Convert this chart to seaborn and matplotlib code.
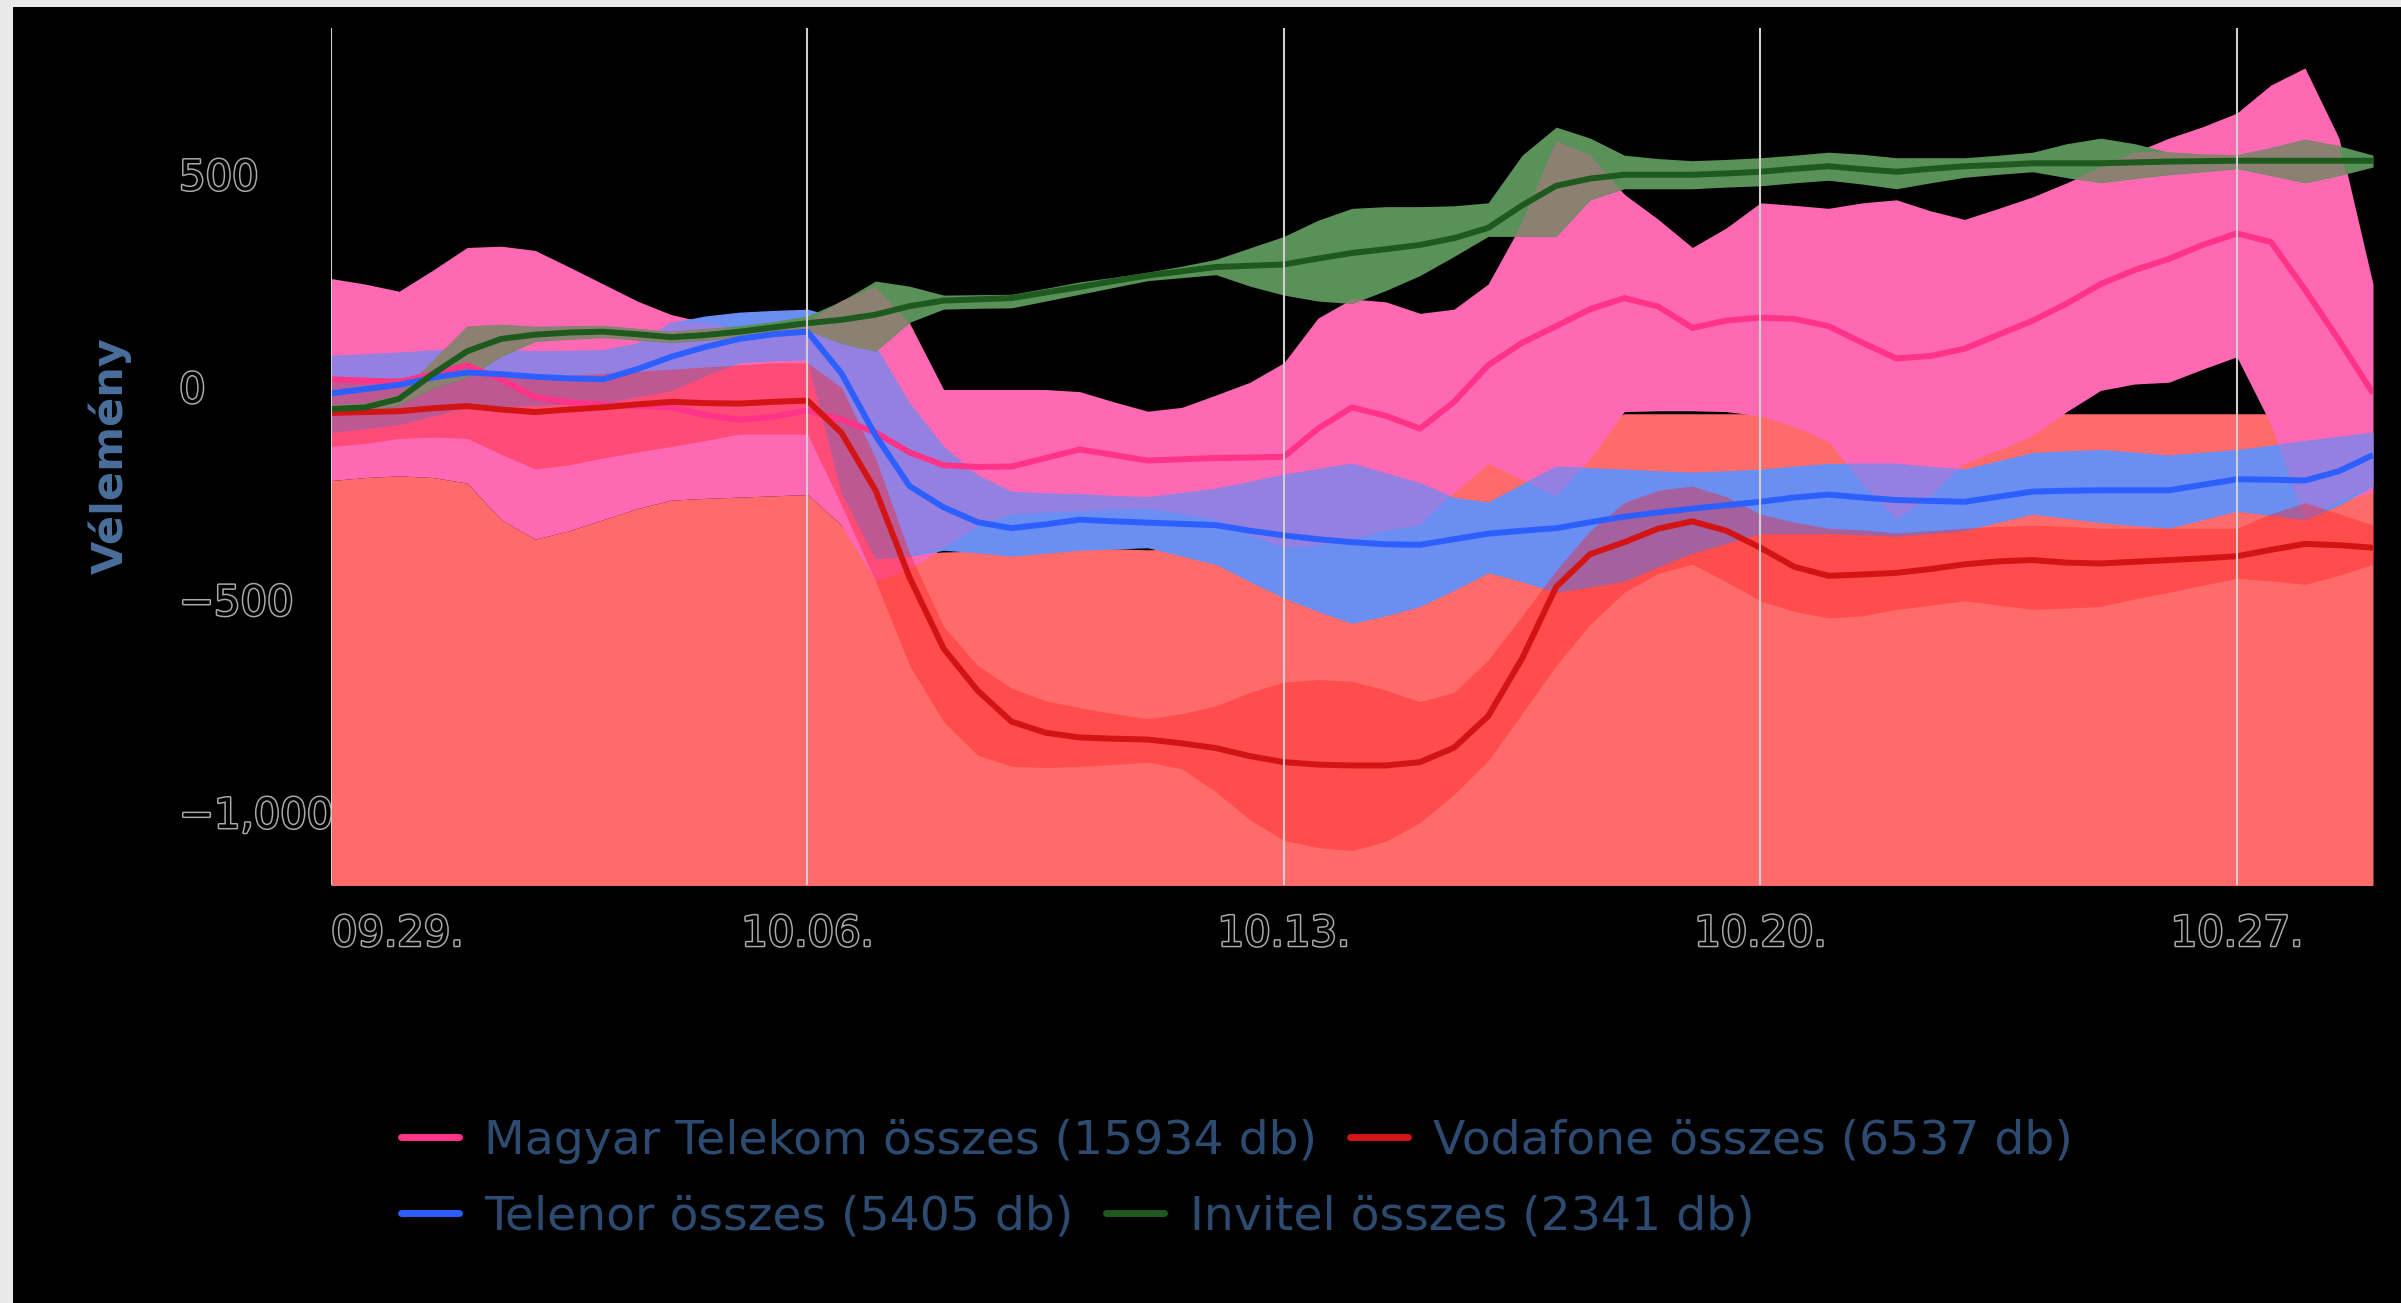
import numpy as np
import pandas as pd
import matplotlib
matplotlib.use("Agg")
import matplotlib.pyplot as plt
import seaborn as sns
from matplotlib import patheffects as pe
from matplotlib.lines import Line2D
from matplotlib.patches import Rectangle

# ---------------- data (half-day steps) ----------------
days = [i / 2 for i in range(61)]  # 0 = 09.29.
xtick_days = [0, 7, 14, 21, 28]
xtick_labels = ["09.29.", "10.06.", "10.13.", "10.20.", "10.27."]
ytick_values = [-1000, -500, 0, 500]
ytick_labels = ["\u22121,000", "\u2212500", "0", "500"]
series_names = ["Magyar Telekom összes (15934 db)", "Vodafone összes (6537 db)",
                "Telenor összes (5405 db)", "Invitel összes (2341 db)"]

# Magyar Telekom
mt_line = [16, 13, 9, 29, 49, 16, -26, -38, -43, -47, -50, -68, -79, -72, -57, -79, -109, -156, -186, -190,
           -189, -169, -149, -162, -175, -172, -169, -168, -166, -100, -50, -70, -100, -37, 49, 102, 141, 181, 207, 187,
           137, 154, 161, 158, 141, 102, 65, 71, 88, 121, 154, 194, 240, 273, 299, 332, 359, 339, 227, 108,
           -17]
mt_upper = [253, 240, 223, 273, 326, 329, 319, 280, 240, 200, 168, 150, 135, 140, 150, 200, 233, 148, -8, -8,
            -8, -8, -13, -37, -59, -50, -21, 9, 55, 160, 205, 198, 171, 181, 240, 385, 576, 543, 451, 392,
            326, 372, 431, 425, 418, 431, 438, 412, 392, 418, 445, 478, 515, 550, 583, 610, 642, 708, 748, 583,
            240]
mt_lower = [-222, -215, -211, -215, -228, -314, -360, -340, -314, -288, -268, -264, -261, -258, -255, -327, -459, -430, -380, -330,
            -301, -297, -294, -290, -288, -300, -314, -350, -380, -375, -360, -340, -327, -250, -182, -220, -261, -170, -60, -58,
            -58, -60, -70, -95, -130, -230, -314, -260, -182, -150, -116, -60, -10, 5, 9, 40, 69, -90, -314, -270,
            -250]

# Vodafone
vf_line = [-63, -61, -59, -52, -47, -55, -61, -55, -50, -43, -37, -40, -41, -37, -34, -110, -245, -450, -617, -716,
           -789, -815, -826, -829, -831, -840, -851, -870, -884, -890, -892, -892, -884, -850, -776, -640, -472, -395, -367, -335,
           -318, -340, -380, -425, -446, -443, -439, -430, -419, -412, -409, -415, -417, -413, -409, -405, -400, -385, -371, -374,
           -380]
vf_inner_upper = [16, 18, 20, 25, 30, 25, 20, 25, 30, 35, 40, 45, 50, 55, 55, -3, -169, -393, -565, -657,
                  -710, -740, -756, -770, -782, -770, -752, -720, -696, -690, -694, -715, -742, -720, -644, -540, -433, -340, -274, -245,
                  -235, -260, -301, -320, -334, -338, -345, -340, -334, -330, -327, -330, -334, -334, -334, -334, -334, -300, -274, -300,
                  -327]
vf_inner_lower = [-142, -135, -123, -120, -123, -160, -195, -185, -169, -155, -142, -128, -113, -113, -113, -280, -459, -657, -789, -868,
                  -894, -897, -894, -890, -884, -900, -954, -1020, -1068, -1085, -1092, -1070, -1026, -960, -881, -770, -657, -560, -485, -440,
                  -419, -460, -505, -530, -545, -540, -525, -515, -505, -515, -525, -522, -518, -500, -485, -468, -452, -458, -466, -445,
                  -419]
vf_outer_upper = [-222, -215, -211, -215, -228, -314, -360, -340, -314, -288, -268, -264, -261, -258, -255, -327, -400, -395, -390, -388,
                  -385, -382, -380, -382, -385, -382, -380, -365, -350, -340, -330, -300, -250, -182, -170, -165, -150, -100, -65, -65,
                  -65, -65, -65, -65, -65, -65, -65, -65, -65, -65, -65, -65, -65, -65, -65, -65, -65, -65, -65, -150,
                  -250]

# Telenor
tn_line = [-17, -7, 3, 20, 32, 28, 22, 18, 16, 40, 69, 92, 111, 122, 128, 30, -116, -235, -285, -320,
           -334, -325, -314, -318, -321, -324, -327, -340, -351, -360, -367, -372, -373, -360, -347, -340, -334, -320, -307, -297,
           -288, -280, -272, -262, -255, -262, -268, -270, -272, -260, -248, -246, -245, -245, -245, -232, -219, -220, -222, -200,
           -162]
tn_upper = [71, 75, 79, 84, 88, 85, 82, 83, 85, 100, 150, 165, 174, 178, 181, 160, 95, -40, -142, -210,
            -248, -252, -254, -258, -261, -251, -241, -225, -208, -195, -182, -205, -228, -262, -272, -230, -189, -192, -195, -199,
            -202, -199, -195, -188, -182, -182, -182, -190, -195, -175, -156, -152, -149, -155, -162, -155, -149, -139, -129, -119,
            -109]
tn_lower = [-109, -100, -90, -70, -50, -48, -45, -42, -40, -25, -10, 25, 55, 60, 62, -250, -406, -400, -386, -392,
            -400, -393, -386, -383, -380, -400, -419, -460, -498, -530, -558, -540, -518, -480, -439, -460, -485, -472, -459, -425,
            -393, -370, -347, -347, -347, -350, -353, -347, -340, -320, -301, -311, -321, -328, -334, -314, -294, -304, -314, -280,
            -235]

# Invitel
iv_line = [-54, -50, -30, 29, 82, 111, 121, 126, 128, 122, 115, 120, 128, 138, 148, 156, 168, 188, 201, 204,
           207, 220, 233, 247, 260, 270, 280, 283, 286, 300, 313, 322, 332, 348, 372, 425, 471, 488, 497, 497,
           497, 500, 504, 511, 517, 510, 504, 511, 517, 520, 524, 524, 524, 526, 528, 529, 530, 530, 530, 530,
           530]
iv_upper = [-44, -40, -20, 60, 140, 145, 140, 141, 142, 135, 128, 135, 142, 152, 165, 200, 247, 235, 214, 215,
            216, 230, 245, 256, 268, 282, 298, 325, 352, 390, 418, 422, 422, 424, 431, 543, 609, 583, 543, 535,
            530, 533, 537, 543, 550, 545, 537, 537, 537, 543, 550, 570, 583, 570, 550, 545, 543, 560, 580, 565,
            543]
iv_lower = [-64, -60, -45, -5, 20, 70, 105, 110, 114, 108, 102, 108, 114, 122, 131, 100, 82, 150, 181, 183,
            184, 200, 216, 232, 248, 255, 262, 235, 214, 200, 194, 225, 260, 305, 352, 352, 352, 438, 464, 464,
            464, 468, 471, 478, 484, 475, 464, 478, 491, 498, 504, 490, 478, 488, 497, 504, 511, 495, 478, 495,
            515]

# ---------------- style ----------------
line_colors = ["#FF3388", "#D21414", "#2D5FFF", "#1E5A1E"]
PINK_BAND = "#FF69B4"
SALMON = "#FF6B6B"
BLUE_BAND = "#6A8EF2"
PURPLE = "#9480E0"
RED_INNER = "#FF1E1E"
GREEN_BAND = "#5A9158"
GREY_MIX = "#8C8073"

sns.set_theme(style="dark", rc={"axes.facecolor": "black", "figure.facecolor": "#e9e9e9"})
plt.rcParams["font.family"] = ["DejaVu Sans"]

W, H = 2401, 1303
fig = plt.figure(figsize=(W / 100, H / 100), dpi=100)
fig.patch.set_facecolor("#e9e9e9")
fig.add_artist(Rectangle((13 / W, 0), 1, 1 - 7 / H, transform=fig.transFigure,
                         facecolor="black", edgecolor="none", zorder=-10))

ax = fig.add_axes([331 / W, 418 / H, 2042 / W, 857 / H])
ax.set_facecolor("black")

x = np.array(days, dtype=float)
ymin, ymax = -1173, 842

# Vodafone outer band (extends below the axis)
ax.fill_between(x, np.full_like(x, ymin - 200), vf_outer_upper, color=SALMON, lw=0, zorder=1)
# Magyar Telekom band
ax.fill_between(x, mt_lower, mt_upper, color=PINK_BAND, lw=0, zorder=2)
# Telenor band
ax.fill_between(x, tn_lower, tn_upper, color=BLUE_BAND, lw=0, zorder=3)
lo = np.maximum(mt_lower, tn_lower)
hi = np.minimum(mt_upper, tn_upper)
ax.fill_between(x, lo, hi, where=hi > lo, interpolate=True, color=PURPLE, lw=0, zorder=3.5)
# Vodafone inner band
ax.fill_between(x, vf_inner_lower, vf_inner_upper, color=RED_INNER, alpha=0.4, lw=0, zorder=4)
# Invitel band
ax.fill_between(x, iv_lower, iv_upper, color=GREEN_BAND, lw=0, zorder=5)
lo2 = np.maximum(mt_lower, iv_lower)
hi2 = np.minimum(mt_upper, iv_upper)
ax.fill_between(x, lo2, hi2, where=hi2 > lo2, interpolate=True, color=GREY_MIX, lw=0, zorder=5.5)

# Lines via seaborn
df = pd.DataFrame({
    "day": np.concatenate([x] * 4),
    "value": np.concatenate([mt_line, vf_line, tn_line, iv_line]),
    "series": np.repeat(series_names, len(days)),
})
sns.lineplot(data=df, x="day", y="value", hue="series", hue_order=series_names,
             palette=dict(zip(series_names, line_colors)), linewidth=4.3,
             legend=False, ax=ax, sort=False, estimator=None)
for i, ln in enumerate(ax.get_lines()):
    ln.set_zorder(6 + i)
    ln.set_solid_joinstyle("round")
    ln.set_solid_capstyle("butt")

# vertical gridlines on top
for d in xtick_days:
    ax.axvline(d, color="#cfcfcf", lw=1.5, zorder=20)

ax.set_xlim(0, 30)
ax.set_ylim(ymin, ymax)
ax.set_xticks(xtick_days)
ax.set_xticklabels(xtick_labels)
ax.set_yticks(ytick_values)
ax.set_yticklabels(ytick_labels)
ax.set_xlabel("")
ax.set_ylabel("")
ax.grid(False)
for s in ax.spines.values():
    s.set_visible(False)

ax.tick_params(axis="y", length=0, pad=109.4, labelsize=30)
ax.tick_params(axis="x", length=0, pad=20, labelsize=30)
stroke = [pe.withStroke(linewidth=2.2, foreground="#a9a9a9")]
for lbl in ax.get_yticklabels():
    lbl.set_ha("left")
    lbl.set_color("black")
    lbl.set_path_effects(stroke)
for i, lbl in enumerate(ax.get_xticklabels()):
    lbl.set_color("black")
    lbl.set_path_effects(stroke)
    if i == 0:
        lbl.set_ha("left")

fig.text(110 / W, 1 - 456 / H, "Vélemény", rotation=90, ha="center", va="center",
         fontsize=31, fontweight="bold", color="#4a6f9c")

# Legend in two rows
handles = [Line2D([0], [0], color=c, lw=5) for c in line_colors]
leg_kw = dict(frameon=False, fontsize=34, handlelength=1.23, handletextpad=0.53,
              columnspacing=0.7, borderpad=0, borderaxespad=0, ncol=2,
              loc="center left", labelcolor="#2d4b70")
fig.legend([handles[0], handles[1]], [series_names[0], series_names[1]],
           bbox_to_anchor=(401 / W, 1 - 1141 / H), **leg_kw)
fig.legend([handles[2], handles[3]], [series_names[2], series_names[3]],
           bbox_to_anchor=(401 / W, 1 - 1217 / H), **leg_kw)

fig.savefig("out.png", dpi=100, facecolor=fig.get_facecolor())
